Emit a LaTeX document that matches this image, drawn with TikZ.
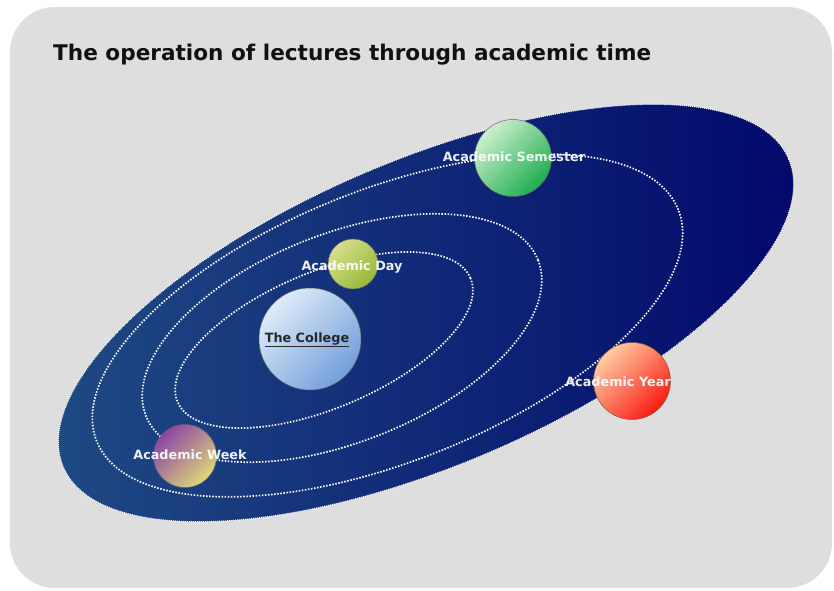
\documentclass[tikz,border=0pt]{standalone}
\usepackage{fontspec}
\setmainfont{DejaVu Sans}
\definecolor{bgc}{RGB}{222,222,222}
\definecolor{titlec}{RGB}{17,17,17}
\definecolor{bigL}{RGB}{32,76,132}
\definecolor{bigR}{RGB}{0,6,106}
\definecolor{colA}{RGB}{222,236,250}
\definecolor{colB}{RGB}{116,158,218}
\definecolor{dayA}{RGB}{214,222,140}
\definecolor{dayB}{RGB}{150,185,55}
\definecolor{semA}{RGB}{205,240,205}
\definecolor{semB}{RGB}{30,172,80}
\definecolor{wkA}{RGB}{140,68,165}
\definecolor{wkB}{RGB}{222,216,120}
\definecolor{yrA}{RGB}{255,205,165}
\definecolor{yrB}{RGB}{250,28,18}
\definecolor{collegetext}{RGB}{40,40,40}
\begin{document}
\begin{tikzpicture}[x=1pt,y=1pt,
  orbit/.style={draw=white, line width=1.7pt, dash pattern=on 1.5pt off 1.6pt},
  rim/.style={draw=white, line width=1pt, dash pattern=on 1pt off 1pt},
  planet/.style n args={3}{circle, draw=black!60, line width=0.5pt, inner sep=0pt,
    minimum size=#3, top color=#1, bottom color=#2, shading angle=45},
  lbl/.style={text=white, text opacity=0.92, font=\bfseries\fontsize{12.8}{14}\selectfont, inner sep=0pt},
]
\useasboundingbox (0,0) rectangle (834,-590);
\fill[white] (0,0) rectangle (834,-590);
\fill[bgc, rounded corners=45pt] (10,-7) rectangle (832,-588);
\node[anchor=west, inner sep=0pt, text=titlec, font=\bfseries\fontsize{21.6}{24}\selectfont] (title) at (53,-55) {The operation of lectures through academic time};
% big ellipse
\shade[left color=bigL, right color=bigR, rotate around={23:(426,-313)}] (426,-313) ellipse [x radius=394, y radius=153];
\draw[rim, rotate around={23:(426,-313)}] (426,-313) ellipse [x radius=394, y radius=153];
% orbits
\draw[orbit, rotate around={22.9:(324,-340)}] (324,-340) ellipse [x radius=159, y radius=68];
\draw[orbit, rotate around={21.7:(342,-338)}] (342,-338) ellipse [x radius=211, y radius=104];
\draw[orbit, rotate around={21.7:(387.5,-325.5)}] (387.5,-325.5) ellipse [x radius=313, y radius=136];
% planets
\node[planet={colA}{colB}{102pt}] (college) at (310,-339) {};
\node[planet={dayA}{dayB}{50pt}] (day) at (353,-264) {};
\node[planet={semA}{semB}{77pt}] (sem) at (513,-158) {};
\node[planet={wkA}{wkB}{63pt}] (week) at (185,-456) {};
\node[planet={yrA}{yrB}{77pt}, draw=brown!70!black] (year) at (632,-381) {};
% labels
\node[lbl] (lsem) at (514,-157) {Academic Semester};
\node[lbl] (lday) at (352,-267) {Academic Day};
\node[lbl] (lweek) at (190,-455) {Academic Week};
\node[lbl] (lyear) at (618,-382) {Academic Year};
\node[inner sep=0pt, text=collegetext, font=\bfseries\fontsize{12.8}{14}\selectfont] (lcollege) at (307,-340) {\underline{The College}};
\end{tikzpicture}
\end{document}
